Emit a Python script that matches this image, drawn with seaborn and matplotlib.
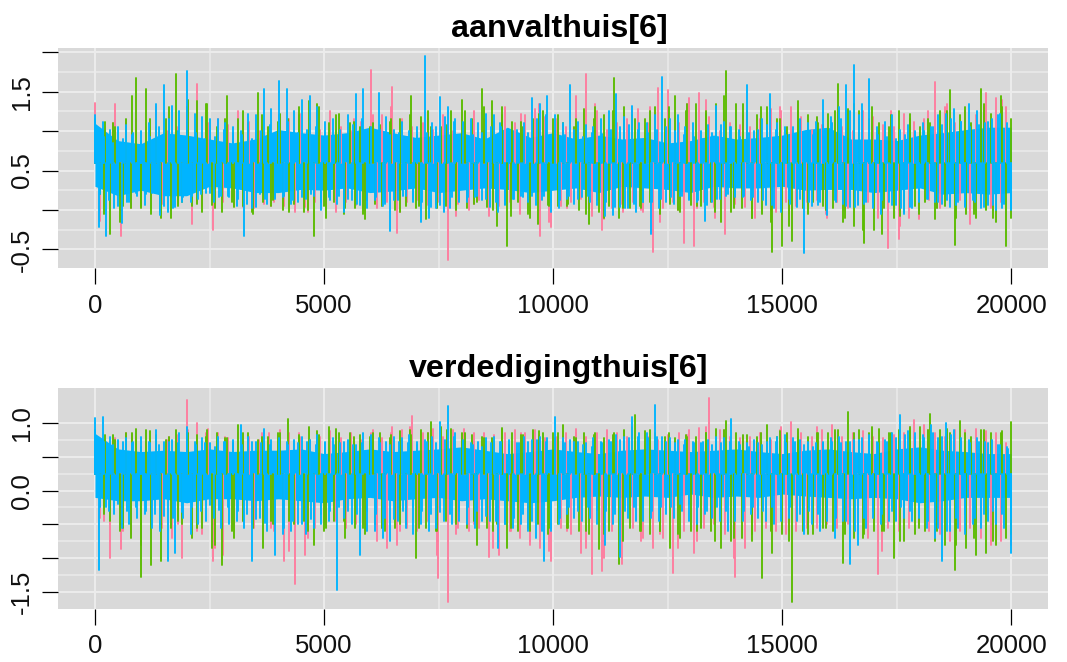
import numpy as np
import pandas as pd
import matplotlib
matplotlib.use("Agg")
import matplotlib.pyplot as plt
from matplotlib.ticker import FixedLocator
import seaborn as sns

# ------------------- values (turning points of each chain) -------------------
titles = ["aanvalthuis[6]", "verdedigingthuis[6]"]
chains = ["chain1", "chain2", "chain3"]
chain_colors = ["#FF7C9E", "#5BBC00", "#00B4FF"]

aanval_pink = [
    1.36,-0.14,1.02,0.06,1.34,-0.33,1.10,0.02,1.15,0.10,1.05,0.14,1.30,0.08,1.00,0.16,1.05,0.12,
    1.30,-0.18,1.60,0.05,1.10,-0.25,1.15,0.10,1.08,0.16,1.25,0.04,1.12,0.02,1.00,0.08,1.05,0.10,
    1.10,0.05,1.15,-0.02,1.22,0.04,1.08,0.10,1.02,0.06,1.25,-0.02,1.05,0.10,1.00,0.06,1.12,0.12,
    1.77,0.02,1.20,0.10,1.56,-0.29,1.15,0.10,1.05,0.12,1.10,0.06,1.02,0.10,1.20,-0.64,1.00,0.08,
    1.10,0.00,1.25,0.12,1.02,-0.08,1.12,0.05,1.30,0.10,1.10,-0.05,1.20,0.02,1.28,-0.33,1.18,-0.22,
    1.15,0.05,1.05,0.10,1.45,0.14,1.73,-0.08,1.25,-0.25,1.02,0.02,1.10,0.08,1.15,0.10,1.28,-0.02,
    1.10,-0.54,1.55,0.02,1.52,0.10,1.10,-0.42,1.42,-0.46,1.49,0.10,1.18,0.04,1.00,-0.30,1.10,0.08,
    1.08,0.04,1.05,-0.10,1.15,0.08,1.28,-0.02,1.25,0.10,1.30,0.05,1.18,0.10,1.02,0.12,1.08,-0.10,
    1.10,0.10,1.05,0.02,1.00,0.08,1.25,0.10,1.18,-0.10,1.08,-0.48,1.05,-0.37,1.22,-0.10,1.12,0.08,
    1.15,0.12,1.62,0.02,1.30,0.10,1.10,0.12,1.25,-0.18,1.20,0.06,1.48,0.02,1.42,0.10,1.30,0.42,
]
aanval_green = [
    1.00,0.20,1.12,-0.31,1.05,-0.15,1.15,0.02,1.67,0.05,1.54,-0.05,1.05,-0.10,1.15,-0.10,1.72,0.10,
    1.30,0.05,1.38,-0.02,1.35,0.06,1.05,-0.02,1.45,0.10,1.15,0.05,1.10,-0.05,1.49,0.10,1.05,0.12,
    1.12,0.00,1.15,0.08,1.20,-0.02,1.38,-0.33,1.30,0.05,1.10,0.10,1.22,-0.05,1.10,0.02,1.05,-0.12,
    1.05,0.08,1.08,0.10,1.12,0.00,1.15,0.05,1.45,0.02,1.18,-0.12,1.05,0.08,1.05,0.05,1.25,0.06,
    1.40,0.02,1.15,0.10,1.54,0.04,1.38,-0.20,1.30,-0.46,1.12,0.10,1.05,-0.05,1.15,-0.18,1.25,0.06,
    1.15,0.05,1.10,0.08,1.05,0.00,1.28,-0.18,1.15,-0.02,1.20,0.05,1.67,-0.10,1.30,0.02,1.15,0.05,
    1.15,0.10,1.30,-0.05,1.15,0.08,1.45,-0.02,1.25,0.06,1.35,0.05,1.22,0.10,1.35,-0.15,1.76,-0.02,
    1.35,0.02,1.25,-0.10,1.20,-0.05,1.30,-0.54,1.15,-0.46,1.05,-0.40,1.38,0.02,1.20,0.10,1.10,0.05,
    1.22,0.02,1.60,-0.15,1.28,-0.20,1.25,-0.42,1.15,-0.25,1.10,0.02,1.05,-0.10,1.25,-0.02,1.15,0.05,
    1.05,0.10,1.10,-0.12,1.25,0.05,1.52,-0.44,1.20,-0.05,1.10,-0.10,1.54,0.00,1.22,-0.15,1.45,-0.46,1.15,
]
aanval_blue = [
    1.20,-0.22,1.12,-0.33,1.02,0.02,1.05,-0.16,1.08,0.10,0.98,0.18,1.00,0.06,1.10,0.22,1.35,-0.07,1.58,-0.02,1.32,0.04,1.25,0.16,
    1.76,0.10,1.22,0.14,1.18,0.22,1.15,0.10,1.16,0.18,1.10,0.16,1.05,0.05,1.00,-0.33,1.22,0.02,1.20,0.20,1.54,0.08,1.28,0.14,
    1.63,0.16,1.53,0.08,1.25,0.10,1.40,0.14,1.44,0.18,1.30,0.00,1.12,0.16,1.15,0.08,1.02,-0.02,1.20,0.12,1.47,0.06,1.54,0.02,
    1.05,0.12,1.48,0.05,1.18,-0.27,1.02,0.12,1.12,0.18,1.00,0.10,1.05,-0.15,1.95,-0.10,1.10,0.02,1.43,-0.02,1.30,0.16,1.15,0.10,
    1.12,0.10,1.15,0.16,1.10,0.12,1.22,0.04,1.20,-0.02,1.05,0.06,1.00,0.14,1.02,0.18,1.10,0.10,1.42,0.06,1.35,0.18,1.45,-0.02,
    1.20,0.02,1.10,0.14,1.58,0.08,1.12,0.16,1.08,0.10,1.05,0.06,1.15,-0.08,1.25,-0.06,1.47,0.04,1.18,0.02,1.32,-0.02,1.10,0.10,
    1.10,-0.31,1.20,0.02,1.69,0.10,1.15,0.08,1.20,0.18,1.05,0.12,1.10,0.10,1.00,-0.14,1.08,0.10,1.32,0.14,1.12,0.20,1.05,0.16,
    1.02,0.16,1.58,0.12,1.00,0.10,1.15,0.06,1.47,0.02,1.10,-0.02,1.05,0.14,1.05,0.04,1.15,-0.55,1.10,0.05,1.12,0.10,1.40,-0.06,
    1.18,0.12,1.30,0.08,1.58,0.04,1.84,0.06,1.35,0.10,1.66,0.02,1.05,-0.05,1.12,0.10,1.20,0.06,1.02,-0.05,1.08,0.02,1.00,0.14,
    1.10,0.14,1.05,0.10,1.20,0.08,1.22,0.04,1.28,0.10,1.12,0.06,1.35,0.12,1.25,0.02,1.10,0.06,1.15,0.00,1.22,0.08,0.98,0.00,
]
# smaller excursions that hug the solid blue core
aanval_pink_near = [
    1.05,0.05,1.10,0.12,1.02,0.10,1.05,0.00,1.15,0.08,
    1.35,0.10,1.10,0.08,1.00,0.05,1.12,0.10,1.05,0.05,
    1.20,0.04,1.10,-0.02,1.15,0.08,1.02,0.05,1.15,0.02,
    1.20,0.05,1.30,-0.02,1.08,0.08,1.15,0.02,1.05,-0.08,
    1.05,0.08,1.15,0.02,1.10,0.05,1.22,-0.05,1.35,-0.15,
    1.10,0.02,1.20,0.08,1.35,-0.12,1.10,-0.02,1.25,0.00,
    1.30,-0.15,1.15,0.00,1.35,0.02,1.40,-0.10,1.15,0.10,
    1.20,0.02,1.10,0.00,1.30,-0.05,1.22,0.05,1.15,-0.05,
    1.10,0.02,1.20,0.05,1.05,-0.02,1.25,-0.20,1.10,-0.12,
    1.25,0.02,1.35,0.05,1.15,0.02,1.30,0.00,1.40,0.08,
]
aanval_green_near = [
    1.02,-0.05,1.10,0.05,1.45,0.02,1.15,-0.02,1.30,0.05,
    1.40,0.08,1.35,0.02,1.15,0.04,1.25,-0.02,1.20,0.05,
    1.22,-0.02,1.30,0.00,1.35,-0.10,1.20,0.02,1.12,-0.05,
    1.10,0.05,1.15,-0.02,1.20,0.05,1.25,0.02,1.08,0.00,
    1.25,0.08,1.30,0.00,1.20,-0.08,1.12,-0.10,1.22,0.05,
    1.20,0.05,1.15,-0.05,1.30,-0.10,1.25,0.02,1.20,0.02,
    1.25,0.02,1.30,0.00,1.35,0.05,1.25,-0.02,1.45,0.02,
    1.35,-0.10,1.30,-0.15,1.15,-0.20,1.25,-0.05,1.18,0.00,
    1.25,-0.10,1.35,-0.25,1.30,-0.30,1.20,-0.08,1.22,-0.05,
    1.15,0.02,1.25,-0.10,1.30,-0.05,1.35,-0.10,1.30,-0.10,
]
aanval_blue_near = [
    1.15,0.20,0.92,0.12,0.85,0.05,0.90,0.10,0.95,0.22,0.88,0.20,0.92,0.22,1.05,0.05,1.15,0.02,1.00,0.10,
    0.95,0.18,0.98,0.20,0.90,0.22,0.92,0.16,1.02,0.18,0.98,0.14,0.95,0.08,0.90,0.04,1.00,0.14,1.08,0.16,
    1.20,0.18,1.12,0.12,0.98,0.16,1.02,0.20,1.05,0.10,0.98,0.12,0.92,0.18,0.95,0.14,1.08,0.08,1.15,0.12,
    1.00,0.16,1.02,0.08,0.95,0.12,0.98,0.18,0.92,0.14,0.95,0.10,0.98,0.04,1.05,0.06,1.18,0.02,1.12,0.14,
    0.92,0.16,0.95,0.18,0.98,0.14,1.05,0.10,1.10,0.08,0.95,0.14,0.90,0.16,0.98,0.18,1.15,0.12,1.20,0.10,
    1.00,0.12,0.95,0.18,1.02,0.14,0.92,0.18,0.98,0.12,0.96,0.10,1.02,0.04,1.05,0.02,1.08,0.08,1.02,0.10,
    0.98,0.10,1.02,0.14,1.05,0.16,1.00,0.18,0.95,0.14,0.92,0.12,0.90,0.06,0.98,0.14,1.08,0.18,1.05,0.20,
    0.92,0.18,0.98,0.16,1.02,0.12,1.08,0.06,1.02,0.02,0.95,0.08,0.92,0.14,0.98,0.10,0.95,0.06,1.08,0.04,
    1.10,0.10,1.15,0.05,1.25,0.04,1.20,0.08,1.02,0.10,0.95,0.12,0.92,0.06,0.90,0.02,0.95,0.04,0.98,0.10,
    1.00,0.14,1.05,0.10,1.08,0.12,1.15,0.06,1.12,0.04,1.05,0.10,1.08,0.04,1.12,0.06,1.20,0.02,1.10,0.04,
]
aanval_core_hi = [1.10,0.88,0.84,0.98,0.95,0.90,0.85,0.90,1.02,0.98,0.95,0.98,1.05,0.98,0.92,0.95,0.98,0.90,1.05,0.92,0.98,
                  0.90,0.95,0.90,0.92,0.85,0.88,0.95,0.90,0.92,0.95,1.02,1.05,0.90,0.90,0.88,0.95,0.98,1.02,1.05,1.05]
aanval_core_lo = [0.30,0.18,0.25,0.18,0.18,0.30,0.28,0.22,0.22,0.26,0.25,0.28,0.22,0.24,0.28,0.22,0.25,0.28,0.26,0.22,0.25,
                  0.28,0.22,0.30,0.28,0.26,0.22,0.30,0.28,0.28,0.30,0.25,0.26,0.26,0.22,0.25,0.28,0.20,0.22,0.20,0.22]

verdediging_pink = [
    0.70,-0.40,0.75,-1.00,0.78,-0.87,0.85,-0.65,0.80,-0.55,0.72,-0.45,0.78,-0.55,0.75,-0.70,0.82,-1.00,
    1.35,-0.50,1.00,-0.65,0.92,-1.05,0.85,-0.95,0.78,-0.55,0.85,-0.45,0.80,-0.55,0.75,-0.45,0.85,-0.60,
    0.82,-1.05,0.85,-1.38,0.80,-0.95,0.75,-0.55,0.80,-0.50,0.88,-0.45,0.78,-0.55,0.85,-0.50,0.75,-0.60,
    0.85,-0.75,0.78,-0.85,0.95,-0.80,0.90,-0.55,1.11,-0.60,0.85,-0.45,0.92,-1.30,0.80,-1.65,0.90,-0.55,
    0.92,-0.60,0.85,-0.55,0.80,-0.98,0.82,-0.95,0.85,-0.60,0.90,-0.70,0.85,-0.80,0.90,-0.85,0.78,-1.05,
    0.80,-0.55,0.85,-0.65,0.92,-0.92,0.80,-1.24,0.85,-1.19,0.90,-0.60,0.85,-1.09,0.80,-0.55,0.75,-0.70,
    0.80,-0.85,0.75,-0.70,0.82,-1.22,0.85,-0.60,0.90,-0.92,0.93,-0.55,1.37,-0.50,0.90,-0.65,0.80,-1.28,
    0.78,-0.85,0.80,-0.60,0.85,-0.55,0.75,-0.60,0.95,-0.65,1.02,-0.60,0.85,-0.55,0.80,-0.55,0.90,-0.50,
    0.97,-0.55,0.80,-0.50,0.85,-0.65,0.88,-0.70,0.80,-1.24,0.78,-0.55,0.82,-0.60,0.85,-0.55,1.05,-0.50,
    0.98,-0.60,0.85,-0.65,0.80,-0.75,0.90,-0.60,0.85,-0.55,0.92,-0.70,0.88,-0.80,0.85,-0.75,0.70,-0.60,
]
verdediging_green = [
    0.78,-0.12,0.82,-0.45,0.75,-0.60,0.85,-0.70,0.92,-1.28,0.90,-1.10,0.82,-1.05,0.75,-0.55,0.90,-0.50,
    0.85,-0.70,0.82,-0.55,0.90,-0.85,0.85,-1.10,0.78,-0.60,0.97,-0.45,0.85,-0.55,0.75,-0.85,0.80,-0.50,
    0.85,-0.55,1.07,-0.50,0.80,-0.45,0.95,-0.80,0.82,-0.60,0.95,-0.45,0.85,-0.45,0.85,-0.55,0.82,-0.65,
    0.80,-0.50,0.85,-0.60,0.78,-0.55,0.88,-0.50,0.82,-1.00,0.90,-0.55,1.02,-0.60,0.95,-0.45,0.92,-0.50,
    0.85,-0.55,0.82,-0.80,0.80,-0.55,0.78,-0.50,0.93,-0.85,0.85,-0.60,0.82,-0.55,0.90,-0.50,0.85,-0.65,
    0.85,-0.50,0.97,-0.55,0.80,-0.60,0.85,-0.65,0.82,-0.87,0.78,-0.60,0.85,-1.09,0.90,-0.55,1.12,-0.60,
    0.88,-0.65,0.85,-0.60,0.80,-0.85,0.78,-0.70,0.82,-0.60,0.80,-0.55,0.85,-0.60,0.92,-0.85,1.03,-0.75,
    0.85,-0.70,0.82,-0.75,0.80,-1.30,0.97,-0.92,0.80,-0.65,0.85,-1.65,0.92,-0.60,0.80,-0.65,0.85,-0.55,
    0.85,-0.60,0.90,-1.07,1.17,-0.70,0.90,-0.65,0.85,-0.60,0.91,-0.60,0.85,-1.00,0.90,-0.75,0.95,-0.65,
    0.95,-0.60,1.14,-0.75,0.90,-0.80,0.85,-1.18,1.04,-0.85,0.80,-0.95,0.90,-0.92,0.85,-0.80,0.85,-0.70,1.02,
]
verdediging_blue = [
    1.08,-1.18,1.10,-0.25,0.80,-0.35,0.75,-0.55,0.78,-0.50,0.72,-0.40,0.80,-0.35,0.72,-0.55,0.90,-0.60,0.72,-1.05,0.75,-0.92,0.85,-0.40,
    0.95,-0.65,0.72,-0.50,0.78,-0.45,0.70,-0.40,0.80,-0.55,0.72,-0.50,0.75,-0.45,0.97,-0.55,0.80,-1.05,0.72,-0.40,0.92,-0.60,0.75,-0.95,
    0.78,-0.65,0.72,-0.60,0.75,-0.50,0.80,-0.65,0.75,-0.55,0.82,-0.50,0.72,-0.45,0.78,-1.48,0.70,-0.40,0.75,-0.50,0.68,-0.95,0.85,-0.60,
    0.82,-0.60,0.78,-0.70,0.72,-0.75,0.80,-0.45,0.78,-0.55,0.82,-0.65,0.72,-0.50,0.75,-0.60,0.80,-0.55,1.02,-0.45,1.25,-0.50,0.85,-0.45,
    0.75,-0.50,0.70,-0.55,0.72,-0.45,0.78,-0.45,0.80,-0.85,0.72,-0.50,0.75,-0.55,0.70,-0.50,0.80,-0.60,0.75,-0.70,0.80,-1.05,0.78,-0.60,
    1.09,-0.50,0.78,-0.35,0.75,-0.40,0.72,-0.45,0.70,-0.40,0.78,-0.50,0.72,-0.80,0.75,-0.50,0.82,-0.98,0.80,-0.40,1.09,-0.45,0.85,-0.45,
    0.85,-0.40,1.27,-0.45,0.80,-0.35,0.78,-0.40,0.75,-0.30,0.75,-0.45,0.72,-0.50,0.70,-0.35,0.75,-0.40,0.80,-0.45,0.78,-0.60,1.07,-0.45,
    0.72,-0.45,0.70,-0.35,0.75,-0.40,0.68,-0.45,0.78,-0.50,0.80,-0.45,0.82,-0.40,0.78,-0.45,0.75,-0.65,0.72,-0.50,0.70,-0.60,0.72,-0.45,
    0.78,-0.70,0.80,-0.45,0.72,-1.09,0.75,-0.80,0.78,-0.55,0.82,-0.40,0.72,-0.50,0.75,-0.45,0.85,-0.45,1.12,-0.40,0.88,-0.45,0.85,-0.40,
    0.82,-0.55,0.98,-0.70,0.78,-1.05,1.00,-0.60,0.90,-0.55,0.78,-0.65,0.75,-0.50,0.78,-0.55,0.72,-0.45,0.75,-0.50,0.68,-0.55,0.62,-0.92,
]
verdediging_pink_near = [
    0.80,-0.45,0.75,-0.60,0.82,-0.55,0.75,-0.40,0.80,-0.50,
    0.90,-0.60,0.85,-0.85,0.80,-0.50,0.75,-0.45,0.85,-0.55,
    0.90,-0.90,0.85,-0.70,0.80,-0.45,0.82,-0.40,0.78,-0.50,
    0.90,-0.55,0.85,-0.60,0.95,-0.45,0.85,-0.95,0.88,-0.65,
    0.82,-0.50,0.85,-0.85,0.80,-0.60,0.85,-0.75,0.82,-0.90,
    0.80,-0.60,0.85,-0.85,0.80,-1.00,0.78,-0.55,0.85,-0.75,
    0.78,-0.65,0.75,-0.85,0.82,-0.75,0.95,-0.50,0.90,-1.00,
    0.80,-0.60,0.85,-0.50,0.90,-0.60,0.85,-0.55,0.95,-0.45,
    0.85,-0.50,0.80,-0.55,0.85,-0.90,0.80,-0.50,0.95,-0.45,
    0.90,-0.55,0.85,-0.60,0.90,-0.55,0.85,-0.70,0.85,-0.80,
]
verdediging_green_near = [
    0.72,-0.35,0.82,-0.55,0.85,-0.80,0.88,-0.55,0.80,-0.45,
    0.85,-0.55,0.80,-0.80,0.78,-0.70,0.85,-0.50,0.80,-0.45,
    0.85,-0.45,0.82,-0.60,0.88,-0.55,0.92,-0.70,0.80,-0.55,
    0.85,-0.55,0.82,-0.50,0.90,-0.55,0.85,-0.60,0.90,-0.45,
    0.85,-0.45,0.78,-0.60,0.90,-0.55,0.82,-0.60,0.88,-0.55,
    0.85,-0.55,0.78,-0.60,0.85,-0.65,0.82,-0.75,0.95,-0.60,
    0.90,-0.60,0.85,-0.65,0.80,-0.60,0.85,-0.75,0.90,-0.70,
    0.82,-0.65,0.85,-0.60,0.88,-0.75,0.80,-0.65,0.85,-0.55,
    0.90,-0.65,0.85,-0.70,0.95,-0.60,0.85,-0.75,0.92,-0.55,
    0.90,-0.60,0.92,-0.80,0.85,-0.70,0.90,-0.75,0.88,-0.65,
]
verdediging_blue_near = [
    0.90,-0.25,0.72,-0.30,0.68,-0.20,0.72,-0.30,0.70,-0.25,0.65,-0.30,0.70,-0.35,0.68,-0.38,0.72,-0.40,0.70,-0.32,
    0.72,-0.25,0.68,-0.30,0.70,-0.22,0.65,-0.28,0.72,-0.25,0.70,-0.30,0.68,-0.35,0.72,-0.42,0.70,-0.48,0.68,-0.50,
    0.72,-0.55,0.68,-0.45,0.70,-0.50,0.72,-0.42,0.68,-0.35,0.70,-0.30,0.68,-0.25,0.72,-0.30,0.68,-0.35,0.70,-0.30,
    0.72,-0.35,0.70,-0.40,0.68,-0.42,0.72,-0.30,0.70,-0.25,0.68,-0.30,0.72,-0.35,0.70,-0.32,0.75,-0.35,0.80,-0.30,
    0.72,-0.25,0.68,-0.30,0.65,-0.38,0.70,-0.45,0.72,-0.50,0.68,-0.40,0.70,-0.35,0.72,-0.45,0.75,-0.60,0.72,-0.55,
    0.78,-0.40,0.70,-0.25,0.72,-0.30,0.68,-0.25,0.65,-0.28,0.70,-0.30,0.72,-0.35,0.75,-0.30,0.78,-0.25,0.80,-0.25,
    0.78,-0.30,0.80,-0.25,0.72,-0.25,0.70,-0.20,0.68,-0.20,0.70,-0.25,0.72,-0.30,0.68,-0.25,0.70,-0.30,0.72,-0.35,
    0.68,-0.30,0.65,-0.25,0.70,-0.30,0.72,-0.25,0.72,-0.30,0.70,-0.25,0.72,-0.35,0.68,-0.30,0.65,-0.35,0.70,-0.30,
    0.72,-0.40,0.70,-0.45,0.72,-0.60,0.75,-0.40,0.72,-0.30,0.70,-0.35,0.72,-0.30,0.78,-0.25,0.82,-0.30,0.80,-0.35,
    0.78,-0.45,0.85,-0.55,0.80,-0.60,0.82,-0.40,0.72,-0.35,0.70,-0.40,0.72,-0.35,0.70,-0.30,0.68,-0.35,0.65,-0.40,
]
verdediging_core_hi = [0.85,0.62,0.58,0.60,0.58,0.62,0.58,0.60,0.60,0.62,0.55,0.58,0.62,0.58,0.60,0.62,0.65,0.60,0.55,0.58,0.62,
                       0.58,0.55,0.60,0.62,0.60,0.58,0.60,0.62,0.58,0.55,0.60,0.62,0.58,0.55,0.62,0.65,0.60,0.58,0.55,0.55]
verdediging_core_lo = [-0.10,-0.15,-0.15,-0.12,-0.18,-0.12,-0.12,-0.15,-0.12,-0.15,-0.18,-0.12,-0.10,-0.15,-0.12,-0.10,-0.15,-0.12,-0.15,-0.18,-0.15,
                       -0.10,-0.08,-0.10,-0.08,-0.10,-0.05,-0.10,-0.08,-0.10,-0.05,-0.08,-0.10,-0.12,-0.10,-0.12,-0.18,-0.15,-0.10,-0.10,-0.10]

x_ticks = [0, 5000, 10000, 15000, 20000]
y_ticks_top = [-0.5, 0.0, 0.5, 1.0, 1.5, 2.0]
y_labels_top = ["-0.5", "", "0.5", "", "1.5", ""]
y_ticks_bottom = [-1.5, -1.0, -0.5, 0.0, 0.5, 1.0]
y_labels_bottom = ["-1.5", "", "", "0.0", "", "1.0"]

# ------------------- style -------------------
sns.set_theme(style="darkgrid", rc={"axes.facecolor": "#D9D9D9", "figure.facecolor": "white"})
plt.rcParams["font.family"] = ["Liberation Sans", "DejaVu Sans"]

W, H = 1067, 662
fig = plt.figure(figsize=(W / 100, H / 100), dpi=100)


def trace_frame(series, core_hi, core_lo):
    # every turning point is a thin vertical stroke from the middle of the core band out to its value
    mid = (np.mean(core_hi) + np.mean(core_lo)) / 2
    parts = []
    start = 0
    for name, lists in zip(chains, series):
        for vals in lists:
            xs = np.linspace(0, 20000, len(vals))
            ids = np.arange(len(vals)) + start
            start += len(vals)
            parts.append(pd.DataFrame({"iter": xs, "val": vals, "stroke": ids, "chain": name}))
            parts.append(pd.DataFrame({"iter": xs, "val": mid, "stroke": ids, "chain": name}))
    return pd.concat(parts, ignore_index=True)


def draw_panel(box, ylim, df, core_hi, core_lo, title, yt, yl):
    left, top, right, bottom = box
    ax = fig.add_axes([left / W, 1 - bottom / H, (right - left) / W, (bottom - top) / H])
    sns.lineplot(data=df, x="iter", y="val", hue="chain", hue_order=chains, palette=chain_colors,
                 units="stroke", estimator=None, sort=False, lw=1.35, legend=False, ax=ax)
    xc = np.linspace(0, 20000, len(core_hi))
    ax.fill_between(xc, core_lo, core_hi, color=chain_colors[2], lw=0)
    ax.set_xlim(-800, 20800)
    ax.set_ylim(*ylim)
    ax.set_xlabel("")
    ax.set_ylabel("")

    ax.set_xticks(x_ticks)
    ax.set_xticklabels([str(t) for t in x_ticks])
    ax.set_yticks(yt)
    ax.set_yticklabels(yl, rotation=90, va="center")
    ax.xaxis.set_minor_locator(FixedLocator(np.arange(2500, 20000, 5000)))
    ax.yaxis.set_minor_locator(FixedLocator(np.array(yt[:-1]) + 0.25))
    ax.tick_params(axis="both", which="major", length=11.5, width=0.9, color="black",
                   labelsize=18.5, labelcolor="#111111", left=True, bottom=True)
    ax.tick_params(axis="x", which="major", pad=7)
    ax.tick_params(axis="y", which="major", pad=6)
    ax.tick_params(axis="both", which="minor", length=0)
    ax.grid(True, which="major", color="#EBEBEB", lw=1.5)
    ax.grid(True, which="minor", color="#EBEBEB", lw=1.1)
    ax.set_axisbelow(True)
    for s in ax.spines.values():
        s.set_visible(False)
    ax.set_title(title, fontsize=23.2, fontweight="bold", x=0.506, pad=8, color="black")
    return ax


draw_panel((58.3, 48, 1048, 268), (-0.737, 2.055),
           trace_frame([[aanval_pink, aanval_pink_near], [aanval_green, aanval_green_near], [aanval_blue, aanval_blue_near]],
                       aanval_core_hi, aanval_core_lo),
           aanval_core_hi, aanval_core_lo, titles[0], y_ticks_top, y_labels_top)
draw_panel((58.3, 388.3, 1048, 608.7), (-1.752, 1.519),
           trace_frame([[verdediging_pink, verdediging_pink_near], [verdediging_green, verdediging_green_near],
                        [verdediging_blue, verdediging_blue_near]],
                       verdediging_core_hi, verdediging_core_lo),
           verdediging_core_hi, verdediging_core_lo, titles[1], y_ticks_bottom, y_labels_bottom)

fig.savefig("out.png", dpi=100)
